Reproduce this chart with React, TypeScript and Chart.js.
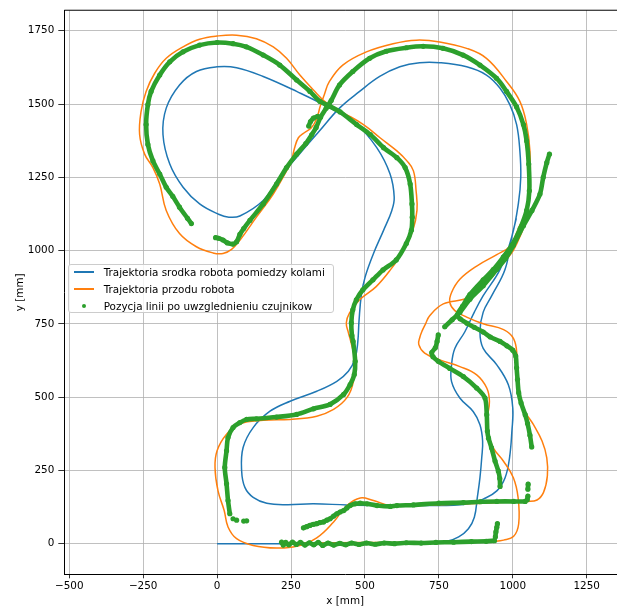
import React, { useEffect, useRef } from 'react';
import { Chart, registerables } from 'chart.js';

Chart.register(...registerables);

type P = [number, number];

// ---- axes ----
const xTicks = [-500, -250, 0, 250, 500, 750, 1000, 1250];
const yTicks = [0, 250, 500, 750, 1000, 1250, 1500, 1750];
const xMin = -516.7;
const xMax = 1382.9;
const yMin = -104.6;
const yMax = 1820;
const xTitle = 'x [mm]';
const yTitle = 'y [mm]';

// ---- series labels / colours ----
const labelCenter = 'Trajektoria srodka robota pomiedzy kolami';
const labelFront = 'Trajektoria przodu robota';
const labelLine = 'Pozycja linii po uwzglednieniu czujnikow';
const blue = '#1f77b4';
const orange = '#ff7f0e';
const green = '#2ca02c';

// ---- trajectory of robot centre (x, y in mm) ----
const centerPath: P[] = [
  [0, 0], [150, 0], [300, 0], [450, 0], [600, 0], [700, 1], [777, 8], [817, 23], [850, 51], [870, 90],
  [880, 157], [889, 225], [895, 293], [898, 350], [889, 406], [866, 451], [821, 497], [793, 553], [793, 610],
  [804, 666], [838, 723], [870, 790], [900, 846], [957, 936], [997, 1048], [1019, 1161], [1027, 1250],
  [1024, 1340], [1013, 1430], [990, 1498], [957, 1554], [911, 1599], [844, 1627], [753, 1641], [685, 1641],
  [618, 1627], [550, 1594], [482, 1543], [414, 1486], [346, 1408], [278, 1329], [212, 1250], [156, 1171],
  [77, 1118], [40, 1114], [5, 1124], [-59, 1159], [-115, 1216], [-160, 1295], [-183, 1396], [-172, 1486],
  [-127, 1565], [-70, 1611], [0, 1627], [66, 1624], [156, 1594], [269, 1543], [382, 1486], [472, 1430],
  [540, 1351], [585, 1261], [599, 1182], [591, 1137], [563, 1069], [529, 990], [501, 911], [488, 850],
  [480, 760], [476, 690], [467, 633], [444, 588], [405, 554], [337, 520], [247, 486], [179, 452], [122, 396],
  [88, 328], [83, 249], [94, 192], [122, 158], [168, 138], [235, 133], [326, 136], [439, 132], [586, 130],
  [700, 130], [800, 131], [860, 138], [900, 152], [946, 180], [974, 225], [989, 293], [997, 384], [1000, 463],
  [985, 542], [946, 610], [900, 666], [889, 723], [900, 790], [929, 846], [974, 936], [997, 1048], [1012, 1110],
];

// ---- trajectory of robot front ----
const frontPath: P[] = [
  [225, 2], [400, 3], [600, 4], [800, 5], [900, 7], [935, 8], [969, 12], [1003, 25], [1020, 68], [1018, 157],
  [1002, 225], [968, 282], [934, 327], [914, 384], [914, 429], [921, 485], [912, 531], [878, 576], [821, 604],
  [753, 627], [702, 650], [682, 680], [686, 705], [693, 725], [705, 750], [719, 778], [765, 818], [850, 840],
  [929, 908], [951, 941], [980, 972], [1002, 1001], [1024, 1047], [1047, 1114], [1058, 1227], [1058, 1340],
  [1047, 1430], [1024, 1509], [979, 1577], [911, 1656], [844, 1690], [753, 1712], [674, 1718], [595, 1706],
  [505, 1678], [425, 1633], [380, 1577], [362, 1530], [348, 1490], [337, 1450], [318, 1418], [295, 1402],
  [275, 1385], [262, 1350], [250, 1300], [235, 1272], [190, 1193], [133, 1114], [77, 1035], [49, 1004],
  [20, 990], [-14, 992], [-70, 1013], [-127, 1058], [-172, 1137], [-194, 1227], [-217, 1283], [-245, 1329],
  [-262, 1396], [-257, 1475], [-240, 1543], [-211, 1605], [-172, 1656], [-115, 1695], [-59, 1721], [0, 1732],
  [66, 1735], [133, 1723], [190, 1695], [235, 1656], [280, 1599], [325, 1549], [371, 1503], [427, 1470],
  [495, 1430], [551, 1385], [608, 1340], [642, 1306], [664, 1272], [673, 1204], [676, 1137], [662, 1069],
  [631, 1001], [586, 934], [538, 877], [482, 832], [448, 787], [437, 753], [444, 720], [452, 690], [464, 633],
  [461, 554], [439, 498], [394, 458], [337, 435], [247, 424], [156, 421], [77, 409], [32, 373], [0, 317],
  [-7, 260], [3, 181], [24, 113], [37, 57], [66, 17], [122, -6], [201, -15], [269, -9], [337, 20], [394, 74],
  [439, 130], [484, 156], [529, 147], [586, 130], [700, 131], [800, 134], [900, 138], [1000, 142], [1048, 144],
  [1082, 149], [1104, 175], [1117, 231], [1115, 293], [1099, 350], [1070, 406], [1045, 445], [1023, 500],
  [1015, 560], [1014, 643], [1003, 699], [969, 730], [900, 750], [844, 773], [804, 795], [787, 823], [793, 857],
  [821, 902], [878, 947], [946, 986], [991, 1015], [1013, 1060], [1025, 1090],
];

// ---- detected line positions (runs of sensor points) ----
const lineBottom: P[] = [
  [218, 5], [224, -5], [232, 4], [242, -4], [255, 5], [268, -3], [282, 4], [297, -5], [312, 3], [327, -4],
  [342, 4], [357, -6], [375, 2], [395, -5], [415, 1], [435, -4], [455, 2], [480, -3], [505, 2], [535, -2],
  [565, 2], [600, 0], [640, 3], [690, 2], [740, 4], [800, 5], [860, 7], [910, 8], [938, 10],
];
const lineBottomEnd: P[] = [[941, 23], [943, 40], [946, 56], [948, 68]];
const lineRightFirst: P[] = [
  [957, 195], [956, 222], [951, 248], [940, 282], [928, 327], [918, 360], [914, 384], [912, 440], [906, 497],
  [878, 531], [833, 570], [787, 598], [748, 622], [730, 638], [726, 652], [738, 668], [744, 690], [748, 712],
];
const lineDiagTail: P[] = [
  [770, 740], [795, 764], [821, 789], [855, 834], [900, 880], [946, 936], [975, 972], [1002, 1018],
  [1036, 1085], [1065, 1137], [1092, 1193], [1103, 1250], [1115, 1300], [1124, 1329],
];
const lineRightSecond: P[] = [
  [1064, 330], [1058, 370], [1050, 410], [1042, 440], [1028, 480], [1020, 515], [1016, 560], [1013, 600],
  [1010, 640], [1000, 660], [980, 675], [957, 690], [924, 705], [900, 722], [870, 738], [845, 752], [822, 767],
  [812, 780], [830, 810], [855, 850], [900, 900], [934, 935], [968, 978], [997, 1018], [1025, 1075],
  [1047, 1137], [1056, 1204], [1054, 1295], [1047, 1374], [1036, 1430], [1013, 1490], [979, 1543], [945, 1588],
  [889, 1633], [832, 1667], [764, 1690], [697, 1697], [640, 1692], [572, 1680], [516, 1656], [459, 1611],
  [414, 1565], [386, 1512], [369, 1486], [350, 1455], [335, 1420], [320, 1395], [300, 1365], [269, 1329],
  [235, 1283], [201, 1227], [156, 1159], [111, 1103], [90, 1075], [77, 1055], [66, 1030], [54, 1022],
  [35, 1026], [20, 1036], [5, 1042], [-5, 1044],
];
const lineCrossSpur: P[] = [[310, 1425], [316, 1440], [326, 1452], [340, 1458]];
const lineLeftLoop: P[] = [
  [-87, 1092], [-100, 1110], [-127, 1148], [-150, 1185], [-172, 1216], [-194, 1261], [-217, 1306],
  [-234, 1362], [-240, 1430], [-234, 1498], [-223, 1543], [-194, 1599], [-160, 1644], [-115, 1678],
  [-59, 1701], [0, 1710], [54, 1706], [99, 1695], [156, 1667], [212, 1633], [269, 1582], [314, 1543],
  [348, 1509], [382, 1492], [416, 1473], [472, 1430], [518, 1396], [563, 1351], [608, 1317], [636, 1283],
  [653, 1227], [659, 1159], [660, 1114], [657, 1069], [640, 1024], [606, 968], [561, 934], [527, 900],
  [493, 866], [471, 832], [459, 798], [454, 753], [456, 710], [460, 690], [467, 622], [464, 577], [450, 543],
  [428, 509], [382, 475], [326, 460], [269, 441], [201, 432], [133, 426], [100, 424], [77, 413], [54, 396],
  [37, 362], [32, 317], [26, 260], [32, 204], [37, 147], [43, 102],
];
const lineLooseA: P[] = [[54, 85]];
const lineLooseB: P[] = [[66, 80]];
const lineLooseC: P[] = [[90, 77]];
const lineLooseD: P[] = [[100, 78]];
const lineSecondBottom: P[] = [
  [292, 54], [303, 58], [314, 62], [326, 66], [337, 68], [348, 72], [360, 74], [371, 80], [382, 85], [394, 94],
  [405, 102], [416, 108], [428, 113], [439, 122], [450, 130], [467, 136], [484, 138], [507, 136], [541, 130],
  [586, 127], [608, 130], [664, 132], [750, 138], [833, 140], [890, 143], [946, 144], [1003, 144], [1042, 144],
];
const lineRightDotsA: P[] = [[1049, 150], [1051, 162]];
const lineRightDotsB: P[] = [[1051, 186], [1052, 203]];

const lineRuns: P[][] = [
  lineBottom, lineBottomEnd, lineRightFirst, lineDiagTail, lineRightSecond, lineCrossSpur, lineLeftLoop,
  lineLooseA, lineLooseB, lineLooseC, lineLooseD, lineSecondBottom, lineRightDotsA, lineRightDotsB,
];

const toXY = (p: P) => ({ x: p[0], y: p[1] });
const fmtTick = (v: any) => {
  const n = Number(v);
  return n < 0 ? '\u2212' + Math.abs(n) : String(n);
};

const FONT = '"DejaVu Sans", sans-serif';
const FS = 10.4;

const topSpine = {
  id: 'topSpine',
  afterDraw(chart: any) {
    const { ctx, chartArea } = chart;
    ctx.save();
    ctx.strokeStyle = '#000';
    ctx.lineWidth = 1;
    ctx.beginPath();
    ctx.moveTo(chartArea.left, chartArea.top);
    ctx.lineTo(chartArea.right, chartArea.top);
    ctx.stroke();
    ctx.restore();
  },
};

export default function App() {
  const ref = useRef<HTMLCanvasElement>(null);

  useEffect(() => {
    if (!ref.current) return;
    const lineData: any[] = [];
    lineRuns.forEach((run) => {
      run.forEach((p) => lineData.push(toXY(p)));
      lineData.push({ x: null, y: null });
    });

    const chart = new Chart(ref.current, {
      type: 'line',
      data: {
        datasets: [
          {
            label: labelCenter,
            data: centerPath.map(toXY),
            borderColor: blue,
            backgroundColor: blue,
            borderWidth: 1.5,
            pointRadius: 0,
            tension: 0.4,
            fill: false,
            order: 3,
          },
          {
            label: labelFront,
            data: frontPath.map(toXY),
            borderColor: orange,
            backgroundColor: orange,
            borderWidth: 1.5,
            pointRadius: 0,
            tension: 0.4,
            fill: false,
            order: 2,
          },
          {
            label: labelLine,
            data: lineData,
            borderColor: green,
            backgroundColor: green,
            borderWidth: 4.6,
            borderCapStyle: 'round',
            borderJoinStyle: 'round',
            pointRadius: 2.6,
            pointBorderWidth: 0,
            pointBackgroundColor: green,
            tension: 0.3,
            spanGaps: false,
            fill: false,
            order: 1,
          },
        ] as any,
      },
      options: {
        responsive: false,
        maintainAspectRatio: false,
        animation: false,
        events: [],
        layout: { padding: { left: 0, right: 14, top: 5, bottom: 0 } },
        plugins: { legend: { display: false }, tooltip: { enabled: false } },
        scales: {
          x: {
            type: 'linear',
            min: xMin,
            max: xMax,
            afterBuildTicks: (s: any) => {
              s.ticks = xTicks.map((v) => ({ value: v }));
            },
            afterFit: (s: any) => {
              s.height = 37.7;
            },
            grid: { color: '#b0b0b0', lineWidth: 0.8, tickColor: '#000', tickLength: 4, tickWidth: 0.8, drawTicks: true },
            border: { display: true, color: '#000', width: 1 },
            ticks: { color: '#000', font: { family: FONT, size: FS }, padding: 2, maxRotation: 0, autoSkip: false, callback: fmtTick },
            title: { display: true, text: xTitle, color: '#000', font: { family: FONT, size: FS }, padding: { top: 0, bottom: 4.8 } },
          },
          y: {
            type: 'linear',
            min: yMin,
            max: yMax,
            afterBuildTicks: (s: any) => {
              s.ticks = yTicks.map((v) => ({ value: v }));
            },
            afterFit: (s: any) => {
              s.width = 64.3;
            },
            grid: { color: '#b0b0b0', lineWidth: 0.8, tickColor: '#000', tickLength: 6, tickWidth: 0.8, drawTicks: true },
            border: { display: true, color: '#000', width: 1 },
            ticks: { color: '#000', font: { family: FONT, size: FS }, padding: 4, autoSkip: false, callback: fmtTick },
            title: { display: true, text: yTitle, color: '#000', font: { family: FONT, size: FS }, padding: { top: 14, bottom: 0 } },
          },
        },
      } as any,
      plugins: [topSpine],
    });
    return () => chart.destroy();
  }, []);

  const rowText: React.CSSProperties = {
    position: 'absolute',
    left: 34.7,
    fontFamily: FONT,
    fontSize: FS,
    lineHeight: '12px',
    color: '#000',
    whiteSpace: 'nowrap',
  };
  const handle = (color: string, cy: number): React.CSSProperties => ({
    position: 'absolute',
    left: 4.7,
    top: cy - 0.75,
    width: 20.6,
    height: 1.5,
    background: color,
  });

  return (
    <div style={{ position: 'fixed', left: 0, top: 0, width: 617, height: 612, overflow: 'hidden', background: '#fff' }}>
      <canvas ref={ref} width={640} height={612} style={{ width: 640, height: 612, display: 'block' }} />
      <div
        style={{
          position: 'absolute',
          left: 68,
          top: 264,
          width: 266,
          height: 49,
          boxSizing: 'border-box',
          border: '1px solid #cccccc',
          borderRadius: 3,
          background: 'rgba(255,255,255,0.8)',
        }}
      >
        <div style={handle(blue, 7)} />
        <div style={{ ...rowText, top: 1 }}>{labelCenter}</div>
        <div style={handle(orange, 24)} />
        <div style={{ ...rowText, top: 18 }}>{labelFront}</div>
        <div
          style={{
            position: 'absolute',
            left: 13.3,
            top: 39,
            width: 4,
            height: 4,
            borderRadius: '50%',
            background: green,
          }}
        />
        <div style={{ ...rowText, top: 35 }}>{labelLine}</div>
      </div>
    </div>
  );
}
